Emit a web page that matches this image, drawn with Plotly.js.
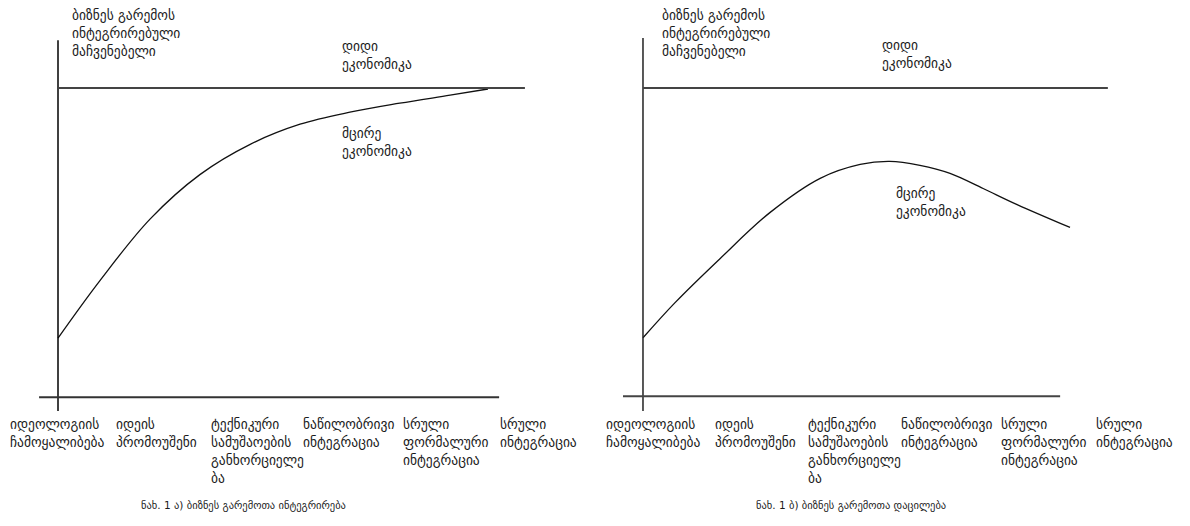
<!DOCTYPE html>
<html>
<head>
<meta charset="utf-8">
<script src="https://cdn.plot.ly/plotly-3.0.1.min.js"></script>
<style>html,body{margin:0;padding:0;background:#fff;}#chart{width:1190px;height:526px;}</style>
</head>
<body>
<div id="chart"></div>
<script>
// ---- data ----
const stageLabels = [
  ["იდეოლოგიის", "ჩამოყალიბება"],
  ["იდეის", "პრომოუშენი"],
  ["ტექნიკური", "სამუშაოების", "განხორციელე", "ბა"],
  ["ნაწილობრივი", "ინტეგრაცია"],
  ["სრული", "ფორმალური", "ინტეგრაცია"],
  ["სრული", "ინტეგრაცია"]
];
const yTitleLines = ["ბიზნეს გარემოს", "ინტეგრირებული", "მაჩვენებელი"];
const bigLabel = ["დიდი", "ეკონომიკა"];
const smallLabel = ["მცირე", "ეკონომიკა"];
const captionA = "ნახ. 1 ა) ბიზნეს გარემოთა ინტეგრირება";
const captionB = "ნახ. 1 ბ) ბიზნეს გარემოთა დაცილება";

// big economy level (reference line)
const bigLevel = 100;
// panel a: small economy converges
const smallA_x = [0, 9.8, 21.4, 33.0, 44.7, 56.3, 67.9, 79.5, 91.2, 100];
const smallA_y = [19.1, 37.8, 57.6, 72.0, 81.8, 88.3, 92.2, 95.1, 97.7, 99.7];
// panel b: small economy diverges
const smallB_x = [0, 7.4, 17.9, 29.5, 41.2, 50.5, 57.4, 64.4, 71.4, 79.1, 87.0, 99.3];
const smallB_y = [19.2, 30.5, 44.8, 59.7, 70.8, 75.3, 76.3, 75.0, 72.4, 67.5, 62.3, 54.9];

// ---- layout helpers ----
const FONT = "DejaVu Sans, sans-serif";
const TXT = "#1b1b1b";
const SIZE = 13.5;
const labelX = {x: [-11.4, 13.3, 35.3, 56.7, 80.0, 102.6], x2: [-8.8, 16.5, 38.1, 59.8, 83.0, 105.1]};
const lineY = [-8.7, -14.6, -20.4, -26.2];
const annotations = [];
function addLines(lines, xref, x, yStart, step, size) {
  lines.forEach((t, i) => annotations.push({
    xref: xref, yref: 'y', x: x, y: yStart - i * step, text: t, showarrow: false, borderpad: 0,
    xanchor: 'left', yanchor: 'middle', font: {family: FONT, size: size, color: TXT}
  }));
}
['x', 'x2'].forEach(xr => {
  stageLabels.forEach((lines, i) => {
    lines.forEach((t, j) => annotations.push({
      xref: xr, yref: 'y', x: labelX[xr][i], y: lineY[j], text: t, showarrow: false, borderpad: 0,
      xanchor: 'left', yanchor: 'middle', font: {family: FONT, size: SIZE, color: TXT}
    }));
  });
});
addLines(yTitleLines, 'x', 3.0, 123.6, 5.85, SIZE);
addLines(yTitleLines, 'x2', 4.1, 123.6, 5.85, SIZE);
addLines(bigLabel, 'x', 65.8, 113.6, 5.85, SIZE);
addLines(smallLabel, 'x', 65.8, 85.4, 5.85, SIZE);
addLines(bigLabel, 'x2', 55.3, 113.9, 5.85, SIZE);
addLines(smallLabel, 'x2', 58.6, 66.0, 5.85, SIZE);
addLines([captionA], 'x', 19.0, -35.0, 0, 10.5);
addLines([captionB], 'x2', 26.0, -35.0, 0, 10.5);

const shapes = [
  // panel a axes
  {type: 'line', xref: 'x', yref: 'y', x0: 0, x1: 0, y0: -4.5, y1: 115.5, line: {color: '#000', width: 1.5}},
  {type: 'line', xref: 'x', yref: 'y', x0: -4.4, x1: 102.6, y0: 0, y1: 0, line: {color: '#333', width: 2}},
  {type: 'line', xref: 'x', yref: 'y', x0: 0, x1: 108.6, y0: bigLevel, y1: bigLevel, line: {color: '#444', width: 2}},
  // panel b axes
  {type: 'line', xref: 'x2', yref: 'y', x0: 0, x1: 0, y0: -4.5, y1: 116.2, line: {color: '#222', width: 1.5}},
  {type: 'line', xref: 'x2', yref: 'y', x0: -4.65, x1: 97, y0: 0.3, y1: 0.3, line: {color: '#444', width: 2}},
  {type: 'line', xref: 'x2', yref: 'y', x0: 0, x1: 108.1, y0: bigLevel, y1: bigLevel, line: {color: '#444', width: 2}}
];

const traces = [
  {x: smallA_x, y: smallA_y, xaxis: 'x', yaxis: 'y', mode: 'lines', line: {color: '#111', width: 1.3, shape: 'spline', smoothing: 1}, hoverinfo: 'skip'},
  {x: smallB_x, y: smallB_y, xaxis: 'x2', yaxis: 'y', mode: 'lines', line: {color: '#111', width: 1.3, shape: 'spline', smoothing: 1}, hoverinfo: 'skip'}
];

const hidden = {visible: false, showgrid: false, zeroline: false, fixedrange: true};
const layout = {
  width: 1190, height: 526,
  margin: {l: 0, r: 0, t: 0, b: 0},
  paper_bgcolor: '#fff', plot_bgcolor: '#fff',
  showlegend: false,
  xaxis: Object.assign({domain: [0, 0.5], range: [-13.49, 124.9]}, hidden),
  xaxis2: Object.assign({domain: [0.5, 1], range: [-11.16, 127.2], anchor: 'y'}, hidden),
  yaxis: Object.assign({domain: [0, 1], range: [-41.7, 128.5]}, hidden),
  shapes: shapes,
  annotations: annotations
};
Plotly.newPlot('chart', traces, layout, {staticPlot: true, displayModeBar: false});
</script>
</body>
</html>
